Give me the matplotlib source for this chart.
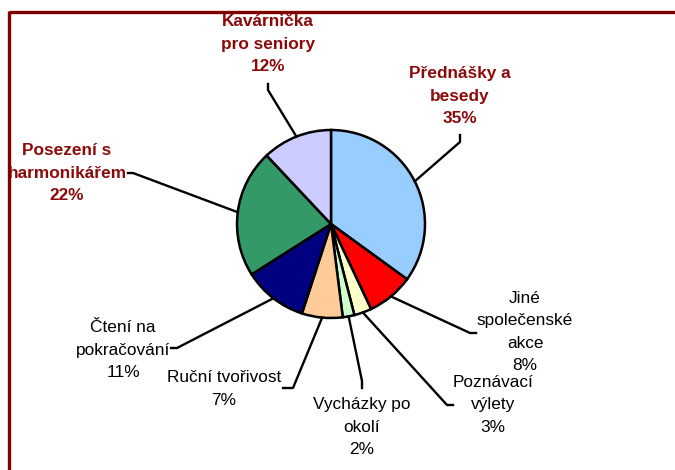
import numpy as np
import matplotlib
matplotlib.use("Agg")
import matplotlib.pyplot as plt
from matplotlib.patches import Rectangle
from matplotlib.lines import Line2D

plt.rcParams['font.family'] = ['Liberation Sans', 'DejaVu Sans']

# ---- data ----
categories = ["Přednášky a\nbesedy", "Jiné\nspolečenské\nakce", "Poznávací\nvýlety",
              "Vycházky po\nokolí", "Ruční tvořivost", "Čtení na\npokračování",
              "Posezení s\nharmonikářem", "Kavárnička\npro seniory"]
values = [35, 8, 3, 2, 7, 11, 22, 12]
colors = ["#99CCFF", "#FF0000", "#FFFFCC", "#CCFFCC", "#FFCC99", "#000080", "#339966", "#CCCCFF"]
highlight = [True, False, False, False, False, False, True, True]

# ---- layout (pixel coords, y down) ----
W, H = 675, 470
CX, CY, R = 331, 224, 94
# label centre, elbow point, line end near label
label_pos = [(460, 96), (525, 332), (493, 405), (362, 427), (224, 389), (123, 350), (67, 173), (268, 44)]
elbows = [(460, 142), (470, 333), (447, 405), (362, 381), (293, 388), (177, 348), (133, 173), (268, 90)]
ends = [(460, 135), (476, 333), (453, 405), (362, 388), (283, 388), (171, 348), (128, 173), (268, 84)]

fig = plt.figure(figsize=(W / 100, H / 100), dpi=100)
ax = fig.add_axes([0, 0, 1, 1])


def P(x, y):
    return x, H - y


wedges, _ = ax.pie(values, colors=colors, startangle=90, counterclock=False,
                   center=P(CX, CY), radius=R,
                   wedgeprops=dict(edgecolor="black", linewidth=1.8))
ax.set_xlim(0, W)
ax.set_ylim(0, H)
ax.set_aspect("equal")
ax.axis("off")

for i, w in enumerate(wedges):
    mid = np.deg2rad((w.theta1 + w.theta2) / 2)
    cx, cy = P(CX, CY)
    ex, ey = cx + R * np.cos(mid), cy + R * np.sin(mid)
    bx, by = P(*elbows[i])
    tx, ty = P(*ends[i])
    ax.add_line(Line2D([ex, bx, tx], [ey, by, ty], color="black", lw=1.7, zorder=3))
    lx, ly = P(*label_pos[i])
    txt = f"{categories[i]}\n{values[i]}%"
    if highlight[i]:
        ax.text(lx, ly, txt, ha="center", va="center", fontsize=12.4, fontweight="bold",
                color="#8B0A0A", linespacing=1.62, zorder=4)
    else:
        ax.text(lx, ly, txt, ha="center", va="center", fontsize=12.4,
                color="black", linespacing=1.62, zorder=4)

# frame (cover left margin, then draw dark red border)
fig.add_artist(Rectangle((0, 0), 8 / W, 1, transform=fig.transFigure,
                         facecolor="white", edgecolor="none", zorder=10))
fig.add_artist(Line2D([9 / W, 1], [1 - 11.5 / H, 1 - 11.5 / H], transform=fig.transFigure,
                      color="#800000", lw=2.4, zorder=11, solid_capstyle="butt"))
fig.add_artist(Line2D([9 / W, 9 / W], [0, 1 - 10.5 / H], transform=fig.transFigure,
                      color="#800000", lw=2.4, zorder=11, solid_capstyle="butt"))

fig.savefig("out.png", dpi=100)
